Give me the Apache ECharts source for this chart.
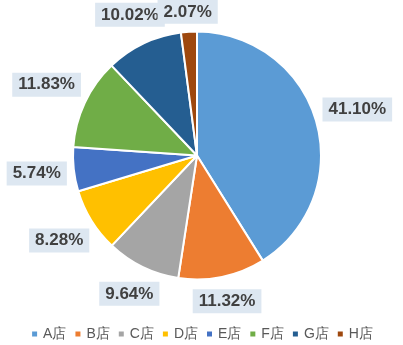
<!DOCTYPE html>
<html>
<head>
<meta charset="utf-8">
<script src="https://cdn.jsdelivr.net/npm/echarts@6/dist/echarts.min.js"></script>
<style>
  html, body { margin: 0; padding: 0; background: #ffffff; }
  #chart { width: 403px; height: 345px; }
</style>
</head>
<body>
<div id="chart"></div>
<script>
// Share of each store (percent)
const stores = ['A店', 'B店', 'C店', 'D店', 'E店', 'F店', 'G店', 'H店'];
const shares = [41.10, 11.32, 9.64, 8.28, 5.74, 11.83, 10.02, 2.07];
const colors = ['#5B9BD5', '#ED7D31', '#A5A5A5', '#FFC000', '#4472C4', '#70AD47', '#255E91', '#9E480E'];

const CX = 197, CY = 155.5, R = 124, GAP = 6;

// mid angle of each slice, clockwise from 12 o'clock (radians)
const total = shares.reduce((a, b) => a + b, 0);
const midAngles = [];
let acc = 0;
shares.forEach(v => {
  midAngles.push((acc + v / 2) / total * Math.PI * 2);
  acc += v;
});

const chart = echarts.init(document.getElementById('chart'), null, { renderer: 'canvas' });
chart.setOption({
  animation: false,
  color: colors,
  legend: {
    top: 322,
    left: 'center',
    itemWidth: 7,
    itemHeight: 7,
    itemGap: 7,
    icon: 'rect',
    textStyle: { color: '#595959', fontSize: 14, fontFamily: 'Liberation Sans' },
    data: stores
  },
  series: [{
    type: 'pie',
    center: [CX, CY],
    radius: R,
    startAngle: 90,
    clockwise: true,
    avoidLabelOverlap: false,
    itemStyle: { borderColor: '#ffffff', borderWidth: 2 },
    label: {
      show: true,
      position: 'outside',
      formatter: p => p.value.toFixed(2) + '%',
      color: '#404040',
      fontSize: 17,
      fontWeight: 'bold',
      fontFamily: 'Liberation Sans',
      backgroundColor: '#DDE7F1',
      padding: [4, 6, 3, 6]
    },
    labelLine: { show: false },
    // each label box sits just outside the rim, centred on its slice's mid angle
    labelLayout: function (p) {
      const th = midAngles[p.dataIndex];
      const w = p.labelRect.width / 2, h = p.labelRect.height / 2;
      const d = R + GAP + Math.abs(Math.sin(th)) * w + Math.abs(Math.cos(th)) * h;
      return {
        x: CX + d * Math.sin(th),
        y: CY - d * Math.cos(th),
        align: 'center',
        verticalAlign: 'middle'
      };
    },
    emphasis: { disabled: true },
    data: stores.map((s, i) => ({ name: s, value: shares[i] }))
  }]
});
</script>
</body>
</html>
